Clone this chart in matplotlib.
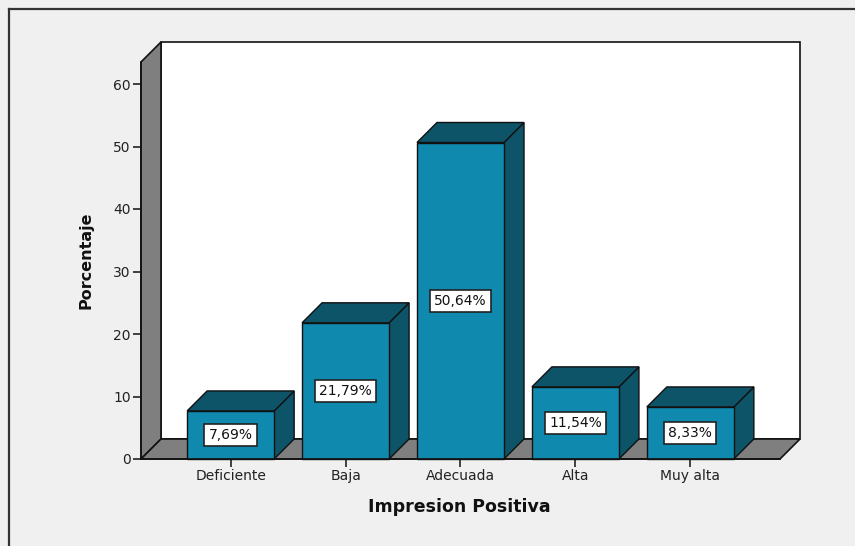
import matplotlib
matplotlib.use("Agg")
import matplotlib.pyplot as plt
from matplotlib.patches import Polygon, Rectangle
from matplotlib.lines import Line2D

categories = ["Deficiente", "Baja", "Adecuada", "Alta", "Muy alta"]
values = [7.69, 21.79, 50.64, 11.54, 8.33]
labels = ["7,69%", "21,79%", "50,64%", "11,54%", "8,33%"]
yticks = [0, 10, 20, 30, 40, 50, 60]

W, H, DPI = 855, 546, 100
fig = plt.figure(figsize=(W / DPI, H / DPI), dpi=DPI, facecolor="#F0F0F0")

# outer frame (top & left edges)
fig.add_artist(Line2D([9 / W, 9 / W], [0, 1 - 9 / H], transform=fig.transFigure, color="#333333", lw=1.6))
fig.add_artist(Line2D([9 / W, 1], [1 - 9 / H, 1 - 9 / H], transform=fig.transFigure, color="#333333", lw=1.6))

ax = fig.add_axes([141 / W, (H - 459) / H, (800 - 141) / W, (459 - 42) / H])
ax.patch.set_visible(False)

x0, x1 = -0.78, 4.78
ytop = 63.52
dx = 20 / 114.9
dy = 3.2
ax.set_xlim(x0, x1 + dx)
ax.set_ylim(0, ytop + dy)

wall_gray = "#7F7F7F"
edge = "#111111"
front_c = "#1089AE"
dark_c = "#0D5469"

# back wall
ax.add_patch(Rectangle((x0 + dx, dy), x1 - x0, ytop, facecolor="white", edgecolor=edge, lw=1.2,
                       zorder=1, clip_on=False))
# left wall
ax.add_patch(Polygon([(x0, 0), (x0, ytop), (x0 + dx, ytop + dy), (x0 + dx, dy)],
                     closed=True, facecolor=wall_gray, edgecolor=edge, lw=1.2, zorder=2, clip_on=False))
# floor
ax.add_patch(Polygon([(x0, 0), (x1, 0), (x1 + dx, dy), (x0 + dx, dy)],
                     closed=True, facecolor=wall_gray, edgecolor=edge, lw=1.2, zorder=2, clip_on=False))

bw = 87 / 114.9
for i, (v, lab) in enumerate(zip(values, labels)):
    l, r = i - bw / 2, i + bw / 2
    ax.add_patch(Polygon([(r, 0), (r, v), (r + dx, v + dy), (r + dx, dy)], closed=True,
                         facecolor=dark_c, edgecolor=edge, lw=1.0, zorder=3, clip_on=False))
    ax.add_patch(Polygon([(l, v), (r, v), (r + dx, v + dy), (l + dx, v + dy)], closed=True,
                         facecolor=dark_c, edgecolor=edge, lw=1.0, zorder=3, clip_on=False))
    ax.add_patch(Rectangle((l, 0), bw, v, facecolor=front_c, edgecolor=edge, lw=1.0, zorder=4,
                           clip_on=False))
    ax.text(i, v / 2, lab, ha="center", va="center", fontsize=10, color="#111111", zorder=5,
            bbox=dict(boxstyle="square,pad=0.3", facecolor="white", edgecolor="#222222", lw=1.2))

for s in ["top", "right"]:
    ax.spines[s].set_visible(False)
ax.spines["left"].set_bounds(0, ytop)
ax.spines["bottom"].set_bounds(x0, x1)
for s in ["left", "bottom"]:
    ax.spines[s].set_color(edge)
    ax.spines[s].set_linewidth(1.2)
    ax.spines[s].set_zorder(6)

ax.set_yticks(yticks)
ax.set_yticklabels([str(t) for t in yticks])
ax.set_xticks(range(len(categories)))
ax.set_xticklabels(categories)
ax.tick_params(axis="both", direction="out", length=5.8, width=1.2, color="#222222",
               labelsize=10, labelcolor="#222222", pad=1.5)

ax.set_ylabel("Porcentaje", fontsize=11.5, fontweight="bold", color="#111111")
ax.yaxis.set_label_coords((86 - 141) / 659, (459 - 260.5) / 417)
ax.set_xlabel("Impresion Positiva", fontsize=12.5, fontweight="bold", color="#111111")
ax.xaxis.set_label_coords((459.5 - 141) / 659, (459 - 507) / 417)
ax.xaxis.label.set_va("center")
ax.yaxis.label.set_va("center")

fig.savefig("out.png", dpi=DPI, facecolor=fig.get_facecolor())
